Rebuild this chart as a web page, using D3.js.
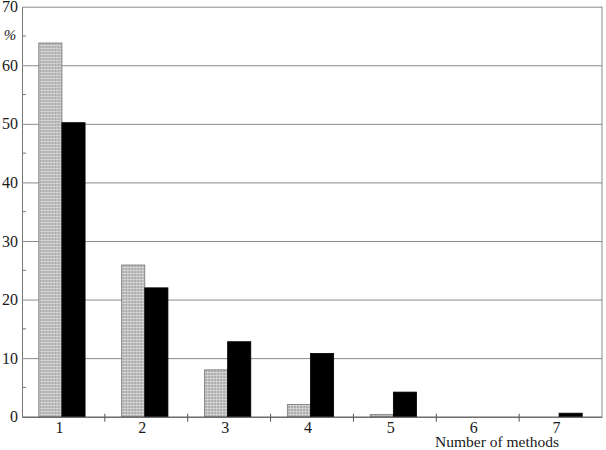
<!DOCTYPE html>
<html>
<head>
<meta charset="utf-8">
<script src="https://cdn.jsdelivr.net/npm/d3@7"></script>
<style>
  body { margin: 0; background: #fff; }
  svg { display: block; font-family: "Liberation Serif", "DejaVu Serif", serif; }
  svg text { font-family: "Liberation Serif", "DejaVu Serif", serif; }
</style>
</head>
<body>
<svg id="chart" width="606" height="450"></svg>
<script>
// Share of respondents by number of methods used, two groups (gray / black bars)
const categories = ['1', '2', '3', '4', '5', '6', '7'];
const seriesNames = ['gray', 'black'];
const grayValues = [63.8, 25.9, 8.0, 2.1, 0.4, 0, 0];
const blackValues = [50.2, 22.0, 12.8, 10.8, 4.2, 0, 0.6];
const majorTicks = [0, 10, 20, 30, 40, 50, 60, 70];
const minorTicks = [5, 15, 25, 35, 45, 55, 65];

const svg = d3.select('#chart');
const plotLeft = 22, plotRight = 602, plotTop = 6.7, plotBottom = 416.7;

const x = d3.scaleBand().domain(categories).range([plotLeft, plotRight]);
const xInner = d3.scaleBand().domain(seriesNames)
    .range([0, x.bandwidth()])
    .paddingOuter(0.79);
const y = d3.scaleLinear().domain([0, 70]).range([plotBottom, plotTop]);

// hatched gray fill
const defs = svg.append('defs');
const pat = defs.append('pattern')
    .attr('id', 'hatch')
    .attr('patternUnits', 'userSpaceOnUse')
    .attr('width', 3).attr('height', 3);
pat.append('rect').attr('width', 3).attr('height', 3).attr('fill', '#ababab');
pat.append('path').attr('d', 'M0,0.5H3M0.5,0V3')
    .attr('stroke', '#d8d8d8').attr('stroke-width', 0.8);

// gridlines + y labels
const yAxis = svg.append('g')
    .attr('transform', `translate(${plotLeft},0)`)
    .call(d3.axisLeft(y).tickValues(majorTicks).tickSize(-(plotRight - plotLeft)).tickSizeOuter(0).tickPadding(4))
    .attr('font-family', null);
yAxis.select('.domain').attr('stroke', '#777');
yAxis.selectAll('.tick line').attr('stroke', '#8a8a8a').attr('stroke-width', 1);
yAxis.selectAll('.tick text')
    .attr('fill', '#1a1a1a')
    .style('font-size', '16px');

svg.append('g')
    .selectAll('line').data(minorTicks)
    .enter().append('line')
    .attr('x1', plotLeft).attr('x2', plotLeft + 4)
    .attr('y1', d => y(d)).attr('y2', d => y(d))
    .attr('stroke', '#777');

svg.append('text')
    .attr('x', 10).attr('y', 40)
    .attr('text-anchor', 'middle')
    .attr('fill', '#1a1a1a')
    .style('font-size', '15px')
    .style('font-style', 'italic')
    .text('%');

// right border
svg.append('line')
    .attr('x1', plotRight).attr('x2', plotRight)
    .attr('y1', y(70)).attr('y2', y(0))
    .attr('stroke', '#8a8a8a');

// bars
const rows = categories.map((c, i) => ({ cat: c, gray: grayValues[i], black: blackValues[i] }));

const groups = svg.append('g')
    .selectAll('g').data(rows)
    .enter().append('g')
    .attr('transform', d => `translate(${x(d.cat) - 1.5},0)`);

groups.selectAll('rect')
    .data(d => seriesNames.map(s => ({ s, v: d[s] })).filter(e => e.v > 0))
    .enter().append('rect')
    .attr('x', d => xInner(d.s))
    .attr('width', xInner.bandwidth())
    .attr('y', d => y(d.v))
    .attr('height', d => y(0) - y(d.v))
    .attr('fill', d => d.s === 'gray' ? 'url(#hatch)' : '#000')
    .attr('stroke', d => d.s === 'gray' ? '#777' : '#000')
    .attr('stroke-width', 0.8);

// x axis
const xAxis = svg.append('g')
    .attr('transform', `translate(0,${plotBottom})`)
    .call(d3.axisBottom(x).tickSize(0).tickPadding(5).tickSizeOuter(0))
    .attr('font-family', null);
xAxis.select('.domain').attr('stroke', '#555');
xAxis.selectAll('.tick text')
    .attr('dx', -4)
    .attr('fill', '#1a1a1a')
    .style('font-size', '16px');

svg.append('g')
    .selectAll('line').data(categories.slice(1))
    .enter().append('line')
    .attr('x1', d => x(d)).attr('x2', d => x(d))
    .attr('y1', plotBottom - 3).attr('y2', plotBottom + 5)
    .attr('stroke', '#555');

svg.append('text')
    .attr('x', 497).attr('y', 446.5)
    .attr('text-anchor', 'middle')
    .attr('fill', '#1a1a1a')
    .style('font-size', '15.5px')
    .text('Number of methods');
</script>
</body>
</html>
